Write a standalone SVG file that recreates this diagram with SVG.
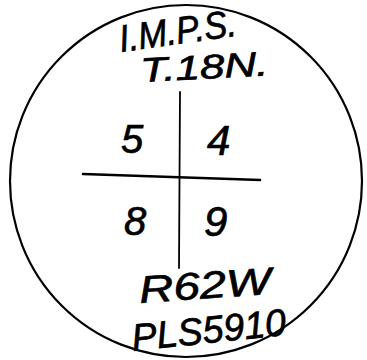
<svg xmlns="http://www.w3.org/2000/svg" width="367" height="360" viewBox="0 0 367 360">
<style>
.t{font-family:"Liberation Sans",Arial,sans-serif;font-style:italic;fill:#000;stroke:#000;stroke-width:0.7}
.ln{stroke:#000;fill:none;stroke-linecap:round}
</style>
<rect width="367" height="360" fill="#fff"/>
<g id="cap">
<circle cx="186" cy="181" r="176" class="ln" stroke-width="2.2"/>
</g>
<g id="connectors">
<line x1="180" y1="92" x2="179" y2="268" class="ln" stroke-width="1.8"/>
<line x1="83" y1="174" x2="260" y2="180" class="ln" stroke-width="2.6"/>
</g>
<g id="header">
<text class="t" x="121" y="52" font-size="38" transform="rotate(-8 121 52)" textLength="118" lengthAdjust="spacingAndGlyphs">I.M.P.S.</text>
<text class="t" x="141" y="82" font-size="34" transform="rotate(-3 141 82)" textLength="128" lengthAdjust="spacingAndGlyphs">T.18N.</text>
</g>
<g id="sections">
<text class="t" x="121" y="153" font-size="40">5</text>
<text class="t" x="207" y="155" font-size="42">4</text>
<text class="t" x="124" y="235" font-size="40">8</text>
<text class="t" x="204" y="236" font-size="42">9</text>
</g>
<g id="footer">
<text class="t" x="140" y="303" font-size="38" transform="rotate(-4 140 303)" textLength="132" lengthAdjust="spacingAndGlyphs">R62W</text>
<text class="t" x="133" y="351" font-size="38" transform="rotate(-6 133 351)" textLength="155" lengthAdjust="spacingAndGlyphs">PLS5910</text>
</g>
</svg>
